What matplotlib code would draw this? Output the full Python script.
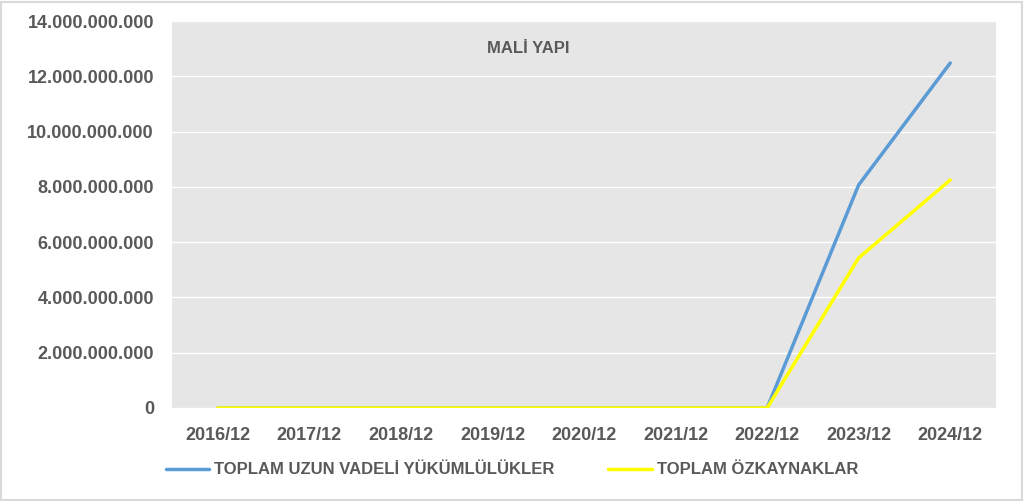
import matplotlib
matplotlib.use("Agg")
import matplotlib.pyplot as plt
from matplotlib.ticker import FuncFormatter, MultipleLocator

# data
years = ["2016/12", "2017/12", "2018/12", "2019/12", "2020/12",
         "2021/12", "2022/12", "2023/12", "2024/12"]
uzun_vadeli = [0, 0, 0, 0, 0, 0, 0, 8.07e9, 12.48e9]
ozkaynaklar = [0, 0, 0, 0, 0, 0, 0, 5.43e9, 8.25e9]

plt.rcParams['font.family'] = ['Liberation Sans', 'DejaVu Sans']
txt = '#595959'

fig = plt.figure(figsize=(10.24, 5.01), dpi=100)
ax = fig.add_axes([172/1024, 1 - 408/501, (996-172)/1024, (408-21)/501])
ax.set_facecolor('#E7E6E6')

x = range(len(years))
ax.plot(x, uzun_vadeli, color='#5B9BD5', lw=2.5, solid_capstyle='round',
        label='TOPLAM UZUN VADELİ YÜKÜMLÜLÜKLER', zorder=3)
ax.plot(x, ozkaynaklar, color='#FFFF00', lw=2.5, solid_capstyle='round',
        label='TOPLAM ÖZKAYNAKLAR', zorder=3)

ax.set_xlim(-0.5, len(years) - 0.5)
ax.set_ylim(0, 14e9)
ax.yaxis.set_major_locator(MultipleLocator(2e9))
ax.yaxis.set_major_formatter(FuncFormatter(lambda v, p: f"{int(v):,}".replace(",", ".")))
ax.set_xticks(list(x))
ax.set_xticklabels(years)
ax.grid(axis='y', color='white', lw=1)
ax.set_axisbelow(True)
for s in ax.spines.values():
    s.set_visible(False)
ax.tick_params(length=0, labelsize=13, labelcolor=txt)
ax.tick_params(axis='y', pad=13)
ax.tick_params(axis='x', pad=14)
for lab in ax.get_xticklabels() + ax.get_yticklabels():
    lab.set_fontweight('bold')

ax.text(0.432, 0.93, 'MALİ YAPI', transform=ax.transAxes, ha='center', va='center',
        fontsize=12, fontweight='bold', color=txt)

leg = fig.legend(loc='center', bbox_to_anchor=(0.50, 1 - 470/501), ncol=2, frameon=False,
                 prop={'weight': 'bold', 'size': 12}, handlelength=2.6, columnspacing=3.2,
                 handletextpad=0.3)
for t in leg.get_texts():
    t.set_color(txt)

fig.patches.append(plt.Rectangle((0.001, 0.002), 0.997, 0.995, transform=fig.transFigure,
                                 fill=False, edgecolor='#D9D9D9', lw=1.5))
fig.savefig('out.png', dpi=100)
